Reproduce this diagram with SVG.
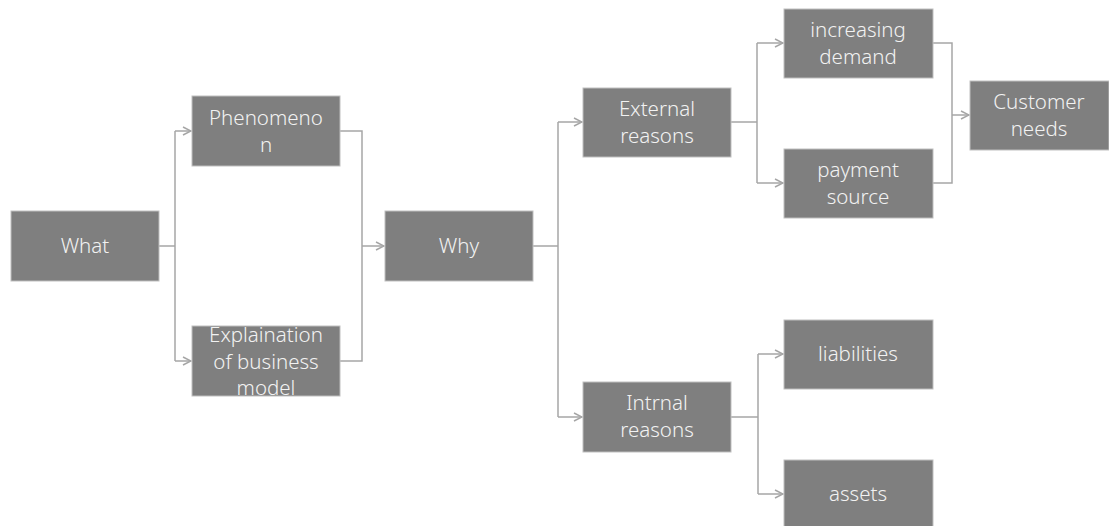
<svg xmlns="http://www.w3.org/2000/svg" width="1109" height="526" viewBox="0 0 1109 526">
<defs>
<marker id="arr" viewBox="0 0 10 10" refX="9" refY="5" markerWidth="10" markerHeight="10" markerUnits="userSpaceOnUse" orient="auto">
<path d="M1,1 L9,5 L1,9" fill="none" stroke="#a6a6a6" stroke-width="1.5"/>
</marker>
<style>
.box{fill:#7f7f7f;stroke:#bfbfbf;stroke-width:1}
.t{fill:#f2f2f2;font-family:"Noto Sans","Liberation Sans",sans-serif;font-weight:300;font-size:20.5px;text-anchor:middle}
.c{fill:none;stroke:#a6a6a6;stroke-width:1.5}
</style>
</defs>
<rect width="1109" height="526" fill="#ffffff"/>
<g id="connectors">
<path class="c" d="M159,246 H175 M175,131 V361"/>
<path class="c" d="M175,131 H191" marker-end="url(#arr)"/>
<path class="c" d="M175,361 H191" marker-end="url(#arr)"/>
<path class="c" d="M340,131 H362 V361 H340 M362,246 H384" marker-end="url(#arr)"/>
<path class="c" d="M533,246 H558 M558,122 V417"/>
<path class="c" d="M558,122 H582" marker-end="url(#arr)"/>
<path class="c" d="M558,417 H582" marker-end="url(#arr)"/>
<path class="c" d="M731,122 H757 M757,43 V183"/>
<path class="c" d="M757,43 H783" marker-end="url(#arr)"/>
<path class="c" d="M757,183 H783" marker-end="url(#arr)"/>
<path class="c" d="M933,43 H952 V183 H933 M952,115 H969" marker-end="url(#arr)"/>
<path class="c" d="M731,417 H758 M758,354 V494"/>
<path class="c" d="M758,354 H783" marker-end="url(#arr)"/>
<path class="c" d="M758,494 H783" marker-end="url(#arr)"/>
</g>
<g id="what"><rect class="box" x="11" y="211" width="148" height="70"/><text class="t" x="85" y="253">What</text></g>
<g id="phenomenon"><rect class="box" x="192" y="96" width="148" height="70"/><text class="t" x="266" y="125">Phenomeno</text><text class="t" x="266" y="152">n</text></g>
<g id="explaination"><rect class="box" x="192" y="326" width="148" height="70"/><text class="t" x="266" y="342">Explaination</text><text class="t" x="266" y="369">of business</text><text class="t" x="266" y="395">model</text></g>
<g id="why"><rect class="box" x="385" y="211" width="148" height="70"/><text class="t" x="459" y="253">Why</text></g>
<g id="external"><rect class="box" x="583" y="88" width="148" height="69"/><text class="t" x="657" y="116">External</text><text class="t" x="657" y="143">reasons</text></g>
<g id="intrnal"><rect class="box" x="583" y="382" width="148" height="70"/><text class="t" x="657" y="410">Intrnal</text><text class="t" x="657" y="437">reasons</text></g>
<g id="increasing"><rect class="box" x="784" y="9" width="149" height="69"/><text class="t" x="858" y="37">increasing</text><text class="t" x="858" y="64">demand</text></g>
<g id="payment"><rect class="box" x="784" y="149" width="149" height="69"/><text class="t" x="858" y="177">payment</text><text class="t" x="858" y="204">source</text></g>
<g id="customer"><rect class="box" x="970" y="81" width="139" height="69"/><text class="t" x="1039" y="109">Customer</text><text class="t" x="1039" y="136">needs</text></g>
<g id="liabilities"><rect class="box" x="784" y="320" width="149" height="69"/><text class="t" x="858" y="361">liabilities</text></g>
<g id="assets"><rect class="box" x="784" y="460" width="149" height="70"/><text class="t" x="858" y="501">assets</text></g>
</svg>
